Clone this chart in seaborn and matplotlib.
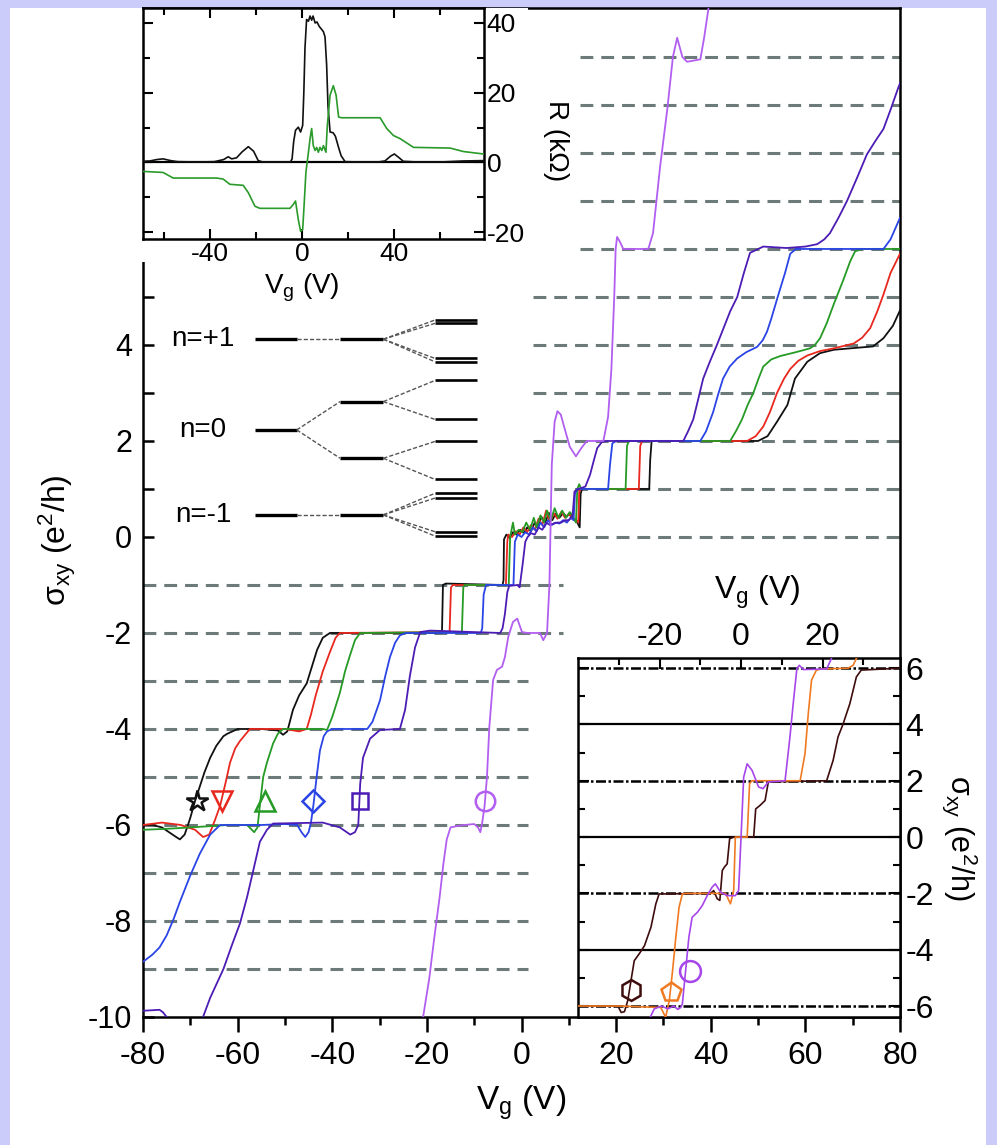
import matplotlib
matplotlib.use("Agg")
import matplotlib.pyplot as plt
import seaborn as sns
from matplotlib.patches import Rectangle

# ---------------------------------------------------------------- data
# main panel: sigma_xy (e^2/h) versus V_g (V)
BLACK = [(-80,-6.0),(-78,-6.0),(-76,-6.05),(-74.5,-6.15),(-73,-6.25),(-72.2,-6.3),(-71.2,-6.2),(-70.5,-6.0),
         (-70,-5.85),(-69,-5.5),(-68,-5.2),(-67,-4.9),(-65.8,-4.6),(-64.5,-4.35),(-63,-4.15),(-62.2,-4.1),
         (-60,-4.0),(-55,-4.0),(-51.5,-4.03),(-50.4,-4.12),(-49.5,-4.05),(-48.3,-3.6),(-47,-3.3),(-45.4,-3.05),
         (-44.3,-2.7),(-43.2,-2.35),(-42,-2.1),(-40.5,-2.0),(-17.0,-2.0),(-16.8,-1.95),(-16.6,-1.0),(-16.0,-0.97),
         (-4.0,-1.0),(-3.8,-0.9),(-3.7,-0.05),(-3.2,0.05),(-2.5,-0.02),(-1.8,0.1),(-1.0,0.05),(-0.3,0.15),
         (0.5,0.08),(1.2,0.2),(2.0,0.12),(2.8,0.3),(3.5,0.2),(4.2,0.42),(5.0,0.3),(5.8,0.5),(6.5,0.35),
         (7.2,0.48),(8.0,0.4),(8.8,0.5),(9.5,0.42),(10.3,0.5),(11.0,0.38),(11.8,0.3),(12.3,0.2),(12.5,0.9),
         (12.8,1.0),(20,1.0),(27.0,1.0),(27.2,1.6),(27.5,2.0),(35,2.0),(45,2.0),(50,2.0),(52,2.1),(54,2.4),
         (56.2,2.75),(57.8,3.3),(60.4,3.65),(63.1,3.83),(66,3.9),(69.5,3.93),(74.3,3.97),(76.5,4.14),
         (78.5,4.4),(80,4.72)]
RED = [(-80,-6.0),(-76,-5.95),(-72,-6.0),(-69,-6.1),(-67.3,-6.25),(-66,-6.2),(-64.8,-5.9),(-63.7,-5.6),
       (-62.5,-5.1),(-61.6,-4.7),(-60.5,-4.4),(-59.5,-4.25),(-57.4,-4.0),(-50,-4.0),(-47,-4.05),(-45.4,-4.0),
       (-44.5,-3.7),(-43.5,-3.3),(-42,-2.8),(-40.5,-2.4),(-39.3,-2.1),(-38.4,-2.0),(-15.2,-1.98),(-14.9,-1.05),
       (-14.5,-1.0),(-3.3,-1.0),(-3.0,-0.1),(-2.8,0.05),(-2.0,0.0),(-1.2,0.12),(-0.4,0.05),(0.4,0.2),
       (1.2,0.1),(2.0,0.25),(2.8,0.15),(3.6,0.38),(4.4,0.25),(5.2,0.55),(6.0,0.3),(6.8,0.5),(7.6,0.38),
       (8.4,0.52),(9.2,0.4),(10.0,0.48),(10.8,0.38),(11.6,0.35),(12.0,0.3),(12.2,0.95),(12.6,1.0),
       (24.8,1.0),(25.1,1.9),(25.5,2.0),(47.7,2.0),(49.5,2.1),(51.1,2.3),(52.5,2.6),(54,3.0),(55.5,3.3),
       (56.8,3.5),(58.5,3.67),(60.4,3.78),(63,3.87),(66,3.93),(70.2,4.03),(72,4.15),(73.7,4.35),
       (75.2,4.7),(76.5,5.05),(78,5.5),(80,5.9)]
GREEN = [(-80,-6.1),(-75,-6.08),(-70,-6.05),(-62,-6.0),(-58,-6.0),(-57,-6.1),(-56.5,-6.15),(-55.8,-6.05),
         (-55.3,-5.6),(-54.6,-5.0),(-53.8,-4.7),(-52.5,-4.3),(-51.5,-4.1),(-50.4,-4.0),(-42,-4.0),(-41.1,-4.02),
         (-40,-3.75),(-38.4,-3.25),(-37.3,-2.8),(-36.2,-2.45),(-35.2,-2.15),(-34.1,-2.0),(-12.6,-1.98),
         (-12.3,-1.05),(-12.0,-1.0),(-2.7,-1.0),(-2.4,0.0),(-1.8,0.3),(-1.4,0.05),(-0.6,0.15),(0.2,0.1),
         (1.0,0.3),(1.8,0.15),(2.6,0.4),(3.2,0.2),(4.0,0.45),(4.8,0.3),(5.4,0.55),(6.2,0.35),(7.0,0.6),
         (7.8,0.4),(8.6,0.55),(9.4,0.4),(10.2,0.52),(11.0,0.4),(11.5,0.3),(11.8,1.0),(12.2,1.1),(12.6,1.0),
         (22.0,1.0),(22.3,1.9),(22.7,2.0),(44.1,2.0),(45.3,2.2),(46.6,2.45),(47.8,2.75),(49,3.0),(50.1,3.3),
         (51.1,3.55),(52.8,3.7),(54.7,3.77),(58,3.85),(61,3.93),(62,4.0),(63.1,4.14),(64.5,4.45),(66,4.85),
         (68,5.35),(69.5,5.75),(70.5,5.95),(72,6.0),(80,6.0)]
BLUE = [(-80,-8.85),(-78,-8.7),(-76.5,-8.55),(-75,-8.3),(-73.5,-7.95),(-72.2,-7.6),(-71,-7.3),(-70,-7.05),
        (-68,-6.6),(-65.8,-6.2),(-63.7,-6.0),(-55,-6.0),(-50,-5.98),(-47.4,-6.0),(-46.5,-6.15),(-45.7,-6.25),
        (-45,-6.15),(-44.5,-5.95),(-44.0,-5.6),(-43.3,-5.0),(-42.6,-4.45),(-41.8,-4.15),(-41.1,-4.05),
        (-40,-4.0),(-32.6,-4.0),(-31.5,-3.85),(-30.6,-3.6),(-29.9,-3.4),(-28.8,-2.9),(-27.8,-2.5),
        (-26.7,-2.2),(-25.7,-2.05),(-24.5,-2.0),(-8.6,-2.0),(-8.3,-1.9),(-8.0,-1.2),(-7.5,-1.0),(-1.7,-1.0),
        (-1.4,-0.1),(-0.8,0.05),(0.0,0.0),(0.8,0.1),(1.6,0.05),(2.4,0.2),(3.2,0.12),(4.0,0.3),(4.8,0.2),
        (5.6,0.35),(6.4,0.25),(7.2,0.3),(8.0,0.28),(8.8,0.35),(9.6,0.3),(10.4,0.4),(11.0,0.35),(11.3,0.9),
        (11.8,1.0),(18.3,1.0),(18.7,1.5),(19.2,1.95),(20,2.0),(37.8,2.0),(39,2.2),(40.5,2.6),(41.5,2.95),
        (42.6,3.3),(44,3.55),(45.6,3.72),(47.5,3.85),(49.8,3.96),(51,4.1),(51.9,4.28),(52.8,4.55),
        (54.3,5.05),(55.7,5.5),(56.8,5.9),(58,6.0),(76.5,6.0),(78,6.2),(80,6.65)]
INDIGO = [(-80,-9.87),(-76.5,-9.85),(-75.8,-9.9),(-75,-10.0),(-74,-10.3),(-68,-10.3),(-67.5,-10.05),
          (-65.8,-9.6),(-63,-9.0),(-61.2,-8.5),(-59.5,-8.05),(-58,-7.5),(-56.7,-6.95),(-55.3,-6.35),
          (-53.8,-6.1),(-52.5,-5.97),(-42,-5.95),(-38.4,-6.05),(-36.2,-6.2),(-35.2,-6.15),(-34.5,-6.0),
          (-34.1,-5.15),(-33.5,-4.6),(-32,-4.2),(-29.9,-4.02),(-25.7,-4.0),(-24.6,-3.6),(-23.6,-2.9),
          (-22.5,-2.3),(-21.4,-1.98),(-19.3,-1.95),(-4.5,-2.0),(-4.0,-1.9),(-3.5,-1.6),(-3.0,-1.15),
          (-2.6,-1.02),(-0.8,-1.0),(-0.4,-1.05),(0.2,-0.6),(0.8,-0.1),(1.3,0.0),(2.0,0.08),(2.8,0.05),
          (3.6,0.2),(4.4,0.15),(5.2,0.3),(6.0,0.25),(6.8,0.28),(7.6,0.3),(8.4,0.3),(9.2,0.35),(10.0,0.35),
          (10.8,0.45),(11.2,0.95),(12.0,1.0),(13.5,1.05),(14.5,1.3),(15.3,1.6),(16.0,1.85),(17.0,1.98),
          (18.0,2.0),(34.2,2.0),(35.2,2.2),(36.3,2.45),(37.3,2.85),(38.4,3.3),(39.8,3.65),(41.3,4.0),
          (42.7,4.35),(44.1,4.7),(45.6,5.0),(47.0,5.5),(48.3,5.92),(51.1,6.05),(56,6.02),(60,6.05),
          (62.5,6.1),(64,6.2),(65.2,6.33),(67,6.65),(68.8,7.0),(71,7.5),(73,7.97),(74.8,8.25),(76.5,8.5),
          (78,8.9),(79.6,9.35),(80,9.45)]
VIOLET = [(-21.2,-10.4),(-20.8,-10.0),(-19.5,-9.2),(-18.5,-8.4),(-17.3,-7.5),(-16.5,-6.8),(-15.8,-6.3),
          (-15.0,-6.05),(-13.5,-6.02),(-12.0,-6.0),(-10.0,-5.98),(-9.2,-6.05),(-8.7,-6.15),(-8.3,-5.95),
          (-7.8,-5.6),(-7.3,-5.0),(-6.8,-3.96),(-6.0,-2.98),(-5.2,-2.77),(-4.1,-2.7),(-3.5,-2.5),(-2.8,-2.08),
          (-1.8,-1.77),(-0.9,-1.7),(0.1,-1.98),(1.2,-2.0),(3.9,-2.0),(4.6,-2.15),(5.4,-2.0),(5.9,-1.0),
          (6.4,1.5),(7.0,2.4),(7.6,2.62),(8.3,2.55),(9.0,2.3),(10.2,1.88),(11.5,1.68),(12.7,1.86),(13.8,2.0),
          (17.3,2.0),(18.3,2.5),(19.0,3.5),(19.6,5.0),(19.9,6.0),(20.2,6.25),(20.8,6.15),(21.5,6.0),
          (26.8,6.0),(27.8,6.33),(29.3,7.72),(30.8,8.9),(32.0,10.0),(32.9,10.4),(34.0,10.0),(35.0,9.9),
          (37.8,9.95),(38.6,10.4),(39.5,11.0),(39.8,11.3)]

MAIN_CURVES = [BLACK, RED, GREEN, BLUE, INDIGO, VIOLET]
MAIN_COLORS = ['#111111', '#e8281e', '#259a25', '#2a44e6', '#4c1cb4', '#b25ef0']
MAIN_MARKERS = ['*', 'v', '^', 'D', 's', 'o']
MARK_VG = [-68.6, -63.3, -54.2, -44.1, -34.1, -7.7]
MARK_S = [-5.5, -5.5, -5.5, -5.5, -5.5, -5.5]

# quantised reference levels (dashed)
LEVELS_LOW = [-9, -8, -7, -6, -5, -4, -3]
LEVELS_MID = [-2, -1]
LEVELS_UP = [0, 1, 2, 3, 4, 5]
LEVELS_TOP = [6, 7, 8, 9, 10]
LOW_END, MID_END, UP_START, TOP_START = 1.4, 8.8, 2.4, 12.4

# level-splitting schematic (energies on the sigma axis scale)
STAGE1 = [4.12, 2.23, 0.46]
STAGE1_LABELS = ['n=+1', 'n=0', 'n=-1']
STAGE2 = [4.12, 2.82, 1.64, 0.46]
STAGE2_PARENT = [0, 1, 1, 2]
STAGE3 = [4.52, 4.45, 3.72, 3.65, 3.26, 2.45, 1.99, 1.20, 0.91, 0.81, 0.11, 0.02]
STAGE3_PARENT = [0, 0, 0, 0, 1, 1, 2, 2, 3, 3, 3, 3]
COL1, COL2, COL3 = (-56.3, -47.5), (-38.35, -29.2), (-18.3, -9.45)
LABEL_VG = -67.3

# top-left inset: R (kOhm) versus V_g
RXX = [(-69,0.3),(-66,0.4),(-63,0.8),(-60.3,1.0),(-57,0.5),(-54,0.2),(-45,0.1),(-38,0.2),(-34,0.8),
       (-32,1.6),(-30.5,1.0),(-28.4,1.3),(-26,3.0),(-23.3,4.5),(-21,3.2),(-19,0.5),(-17,0.1),(-12,0.1),
       (-5,0.1),(-4.3,1.0),(-3.6,6.0),(-2.8,9.2),(-1.6,10.1),(-0.6,8.7),(0.3,10.6),(0.8,20),(1.3,32.8),
       (2.0,41.0),(2.8,40.5),(3.5,42.0),(4.2,40.8),(4.8,42.0),(5.7,40.0),(6.5,40.3),(7.5,39.0),(8.5,38.2),
       (9.3,37.5),(10.0,36.0),(10.7,28),(11.3,16),(12.2,8.7),(13.5,8.5),(14.5,7.5),(16.0,4.0),(17.0,1.9),
       (18.7,0.2),(25,0.1),(33,0.1),(36,0.4),(38.5,1.8),(40.1,2.4),(42,1.4),(44,0.3),(50,0.1),(60,0.1),
       (70,0.4),(79,0.5)]
RXY = [(-69,-2.6),(-60.3,-2.9),(-55.9,-4.5),(-37.1,-4.5),(-34.2,-4.8),(-31.3,-6.3),(-25.5,-6.6),
       (-23.3,-8.7),(-20.4,-12.6),(-18.3,-13.2),(-5.2,-13.2),(-3.8,-12.1),(-2.8,-11.1),(-1.6,-16.4),
       (-0.6,-19.8),(0.3,-19.3),(0.9,-12.6),(1.7,-2.9),(2.8,2.9),(3.5,6.8),(4.2,9.7),(4.9,4.8),(5.7,3.4),
       (6.4,4.3),(7.1,2.9),(7.8,4.3),(8.6,3.4),(9.3,4.8),(10.4,2.9),(11.0,10.6),(12.2,19.3),(13.6,22.0),
       (14.8,19.3),(15.9,13.0),(17.2,12.8),(33.9,12.8),(36.8,9.7),(39.7,7.7),(42.6,6.8),(48.4,4.3),
       (64.3,4.1),(70.1,3.1),(78.8,2.4)]

# bottom-right inset: sigma_xy versus V_g
PURPLE_IN = [(-22.6,-6.5),(-21.3,-6.1),(-19.5,-6.0),(-18,-6.1),(-16.5,-6.0),(-15.5,-6.12),(-14.8,-6.05),
             (-14.4,-5.93),(-13.6,-4.75),(-12.8,-3.56),(-12.0,-2.85),(-10.7,-2.67),(-9.5,-2.43),(-8.3,-2.08),
             (-7.1,-1.78),(-6.3,-1.66),(-5.0,-1.96),(-3.4,-2.08),(-1.4,-2.08),(-0.6,-1.9),(0.0,0.0),
             (0.65,2.13),(1.5,2.6),(2.7,2.37),(4.3,1.78),(5.4,1.72),(6.7,1.96),(10.8,2.0),(12.0,3.56),
             (12.8,4.74),(13.7,5.99),(14.3,6.1),(15.3,5.95),(21.0,5.97),(22.2,6.35),(22.6,6.6)]
ORANGE_IN = [(-40,-6.0),(-30,-6.0),(-19.7,-6.05),(-18.5,-6.4),(-17.6,-5.8),(-16.8,-4.75),(-16.0,-3.56),
             (-15.2,-2.49),(-14.4,-2.02),(-13.6,-2.0),(-3.8,-2.0),(-2.6,-2.37),(-1.8,-1.9),(-1.4,0.0),
             (1.5,0.0),(2.1,1.9),(2.7,2.0),(14.5,2.0),(15.7,2.97),(16.5,4.39),(17.3,5.58),(18.5,5.93),
             (19.8,5.97),(26.3,6.0),(27.5,6.1),(28.7,6.47)]
BROWN_IN = [(-40,-6.0),(-30.2,-6.0),(-29.4,-6.23),(-28.6,-6.2),(-27.8,-5.81),(-27.0,-5.1),(-26.2,-4.39),
            (-25.0,-4.15),(-23.7,-3.86),(-22.1,-3.2),(-20.9,-2.37),(-20.1,-2.02),(-7.5,-2.0),(-6.7,-1.9),
            (-5.85,-2.19),(-5.2,-2.25),(-4.6,-1.19),(-4.1,-1.07),(-3.4,-0.95),(-2.8,-0.06),(-1.8,0.0),
            (3.1,0.0),(3.6,1.0),(4.7,1.13),(5.9,1.3),(6.7,1.96),(21.0,2.0),(22.6,2.73),(23.8,3.56),
            (25.0,4.0),(26.7,4.74),(28.3,5.69),(29.5,5.93),(39,6.0)]
IN_CURVES = [BROWN_IN, ORANGE_IN, PURPLE_IN]
IN_COLORS = ['#3e0c0c', '#f07a22', '#a646ea']
IN_MARKERS = ['h', 'p', 'o']
IN_MARK_VG = [-27.0, -17.2, -12.4]
IN_MARK_S = [-5.43, -5.5, -4.75]
IN_SOLID = [4, 0, -4]
IN_DASHDOT = [6, 2, -2, -6]

# ---------------------------------------------------------------- style
sns.set_theme(style='white')
plt.rcParams['font.family'] = ['Liberation Sans', 'DejaVu Sans']
plt.rcParams['mathtext.fontset'] = 'custom'
plt.rcParams['mathtext.rm'] = 'Liberation Sans'
plt.rcParams['mathtext.it'] = 'Liberation Sans'
plt.rcParams['axes.unicode_minus'] = False
plt.rcParams['axes.edgecolor'] = 'black'
plt.rcParams['xtick.color'] = 'black'
plt.rcParams['ytick.color'] = 'black'
plt.rcParams['text.color'] = 'black'

W, H = 997.0, 1145.0
def fx(px):
    return px / W
def fy(py):
    return 1.0 - py / H

fig = plt.figure(figsize=(9.97, 11.45), dpi=100)
fig.patch.set_facecolor('#ccccfa')
fig.add_artist(Rectangle((fx(10), 0), fx(986) - fx(10), fy(8), transform=fig.transFigure,
                         facecolor='white', edgecolor='none', zorder=-10))

SPINE_W = 1.8
DASH_GRAY = '#6c7a7a'

# ---------------------------------------------------------------- main axes
ax = fig.add_axes([fx(143), fy(1017), fx(900) - fx(143), fy(8) - fy(1017)])
ax.set_zorder(1)
ax.set_facecolor('white')

def draw_levels(levels, x0, x1):
    for lv in levels:
        ax.plot([x0, x1], [lv, lv], color=DASH_GRAY, lw=2.2, ls=(0, (4.2, 2.6)), zorder=1,
                solid_capstyle='butt', dash_capstyle='butt')

draw_levels(LEVELS_LOW, -80, LOW_END)
draw_levels(LEVELS_MID, -80, MID_END)
draw_levels(LEVELS_UP, UP_START, 80)
draw_levels(LEVELS_TOP, TOP_START, 80)

for pts, col in zip(MAIN_CURVES, MAIN_COLORS):
    xs = [p[0] for p in pts]
    ys = [p[1] for p in pts]
    sns.lineplot(x=xs, y=ys, ax=ax, color=col, lw=1.3, sort=False, estimator=None, legend=False, zorder=3)

for vx, vy, mk, col in zip(MARK_VG, MARK_S, MAIN_MARKERS, MAIN_COLORS):
    ms = {'*': 16, 'v': 14, '^': 14, 'D': 11, 's': 12, 'o': 14}[mk]
    ax.plot([vx], [vy], marker=mk, ms=ms, mfc='none', mec=col, mew=1.8, ls='none', zorder=4)

# level schematic
for lv in STAGE1:
    ax.plot(list(COL1), [lv, lv], color='black', lw=2.4, solid_capstyle='butt', zorder=3)
for lv, par in zip(STAGE2, STAGE2_PARENT):
    ax.plot(list(COL2), [lv, lv], color='black', lw=2.4, solid_capstyle='butt', zorder=3)
    ax.plot([COL1[1], COL2[0]], [STAGE1[par], lv], color='#555555', lw=1.0, ls=(0, (3, 1.5)), zorder=3)
for lv, par in zip(STAGE3, STAGE3_PARENT):
    ax.plot(list(COL3), [lv, lv], color='black', lw=1.9, solid_capstyle='butt', zorder=3)
    ax.plot([COL2[1], COL3[0]], [STAGE2[par], lv], color='#555555', lw=1.0, ls=(0, (3, 1.5)), zorder=3)
for lv, lab in zip(STAGE1, STAGE1_LABELS):
    ax.text(LABEL_VG, lv, lab, fontsize=20, ha='center', va='center', zorder=4)

ax.set_xlim(-80, 80)
ax.set_ylim(-10, 11.02)
ax.set_xlabel('')
ax.set_ylabel('')
ax.set_xticks(range(-80, 81, 20))
ax.set_xticks(range(-70, 80, 20), minor=True)
ax.set_yticks(range(-10, 5, 2))
ax.set_yticks(range(-9, 6, 2), minor=True)
ax.tick_params(axis='x', which='both', direction='out', bottom=True, top=False, width=SPINE_W,
               labelsize=23, pad=6)
ax.tick_params(axis='x', which='major', length=11)
ax.tick_params(axis='x', which='minor', length=6)
ax.tick_params(axis='y', which='both', direction='in', left=True, right=False, width=SPINE_W,
               labelsize=22, length=8, pad=8)
for sp in ax.spines.values():
    sp.set_linewidth(SPINE_W)
    sp.set_color('black')

fig.text(fx(521), fy(1103), r'V$_\mathregular{g}$ (V)', fontsize=24, ha='center', va='center')
fig.text(fx(57), fy(540), r'σ$_\mathregular{xy}$ (e$^\mathregular{2}$/h)', fontsize=23, rotation=90,
         ha='center', va='center')

# cover for the pasted top inset
fig.add_artist(Rectangle((fx(141), fy(262)), fx(528) - fx(141), fy(8) - fy(262), transform=fig.transFigure,
                         facecolor='white', edgecolor='none', zorder=2))

# ---------------------------------------------------------------- top-left inset
axi = fig.add_axes([fx(143), fy(239), fx(484) - fx(143), fy(8) - fy(239)])
axi.set_zorder(3)
axi.set_facecolor('white')
axi.axhline(0, color='black', lw=1.6, zorder=2)
for pts, col in [(RXX, '#111111'), (RXY, '#2a9a2a')]:
    sns.lineplot(x=[p[0] for p in pts], y=[p[1] for p in pts], ax=axi, color=col, lw=1.2,
                 sort=False, estimator=None, legend=False, zorder=3)
axi.set_xlim(-69, 79)
axi.set_ylim(-22, 44.3)
axi.set_xlabel('')
axi.set_ylabel('')
axi.set_xticks([-40, 0, 40])
axi.set_xticks([-60, -20, 20, 60], minor=True)
axi.set_yticks([-20, 0, 20, 40])
axi.set_yticks([-10, 10, 30], minor=True)
axi.tick_params(axis='x', which='both', direction='in', top=True, bottom=True, labelbottom=True,
                labeltop=False, width=1.5, labelsize=19, pad=2)
axi.tick_params(axis='x', which='major', length=7)
axi.tick_params(axis='x', which='minor', length=5)
axi.tick_params(axis='y', which='both', direction='in', left=True, right=True, labelleft=False,
                labelright=True, width=1.5, labelsize=19, pad=2)
axi.tick_params(axis='y', which='major', length=7)
axi.tick_params(axis='y', which='minor', length=5)
for sp in axi.spines.values():
    sp.set_linewidth(SPINE_W)
    sp.set_color('black')
fig.text(fx(302), fy(288), r'V$_\mathregular{g}$ (V)', fontsize=20, ha='center', va='center', zorder=4)
fig.text(fx(556), fy(141), 'R (kΩ)', fontsize=20, rotation=270, ha='center', va='center', zorder=4)

# ---------------------------------------------------------------- bottom-right inset
axb = fig.add_axes([fx(578), fy(1017), fx(900) - fx(578), fy(658) - fy(1017)])
axb.set_zorder(3)
axb.set_facecolor('white')
for lv in IN_SOLID:
    axb.axhline(lv, color='black', lw=1.6, zorder=1)
for lv in IN_DASHDOT:
    axb.axhline(lv, color='black', lw=1.8, ls=(0, (4, 1.0, 1, 1.0)), zorder=1)
for pts, col in zip(IN_CURVES, IN_COLORS):
    sns.lineplot(x=[p[0] for p in pts], y=[p[1] for p in pts], ax=axb, color=col, lw=1.2,
                 sort=False, estimator=None, legend=False, zorder=3)
for vx, vy, mk, col in zip(IN_MARK_VG, IN_MARK_S, IN_MARKERS, IN_COLORS):
    axb.plot([vx], [vy], marker=mk, ms=15, mfc='none', mec=col, mew=1.8, ls='none', zorder=4)
axb.set_xlim(-40, 39)
axb.set_ylim(-6.39, 6.36)
axb.set_xlabel('')
axb.set_ylabel('')
axb.set_xticks([-20, 0, 20])
axb.set_xticks([-30, -10, 10, 30], minor=True)
axb.set_yticks([-6, -4, -2, 0, 2, 4, 6])
axb.set_yticks([-5, -3, -1, 1, 3, 5], minor=True)
axb.tick_params(axis='x', which='both', direction='in', top=True, bottom=False, labeltop=True,
                labelbottom=False, width=1.5, labelsize=23, pad=4)
axb.tick_params(axis='x', which='major', length=8)
axb.tick_params(axis='x', which='minor', length=5)
axb.tick_params(axis='y', which='both', direction='in', left=True, right=True, labelleft=False,
                labelright=True, width=1.5, labelsize=23, pad=4)
axb.tick_params(axis='y', which='major', length=8)
axb.tick_params(axis='y', which='minor', length=5)
for sp in axb.spines.values():
    sp.set_linewidth(SPINE_W)
    sp.set_color('black')
fig.text(fx(757), fy(592), r'V$_\mathregular{g}$ (V)', fontsize=23, ha='center', va='center', zorder=4)
fig.text(fx(960), fy(838), r'σ$_\mathregular{xy}$ (e$^\mathregular{2}$/h)', fontsize=22, rotation=270,
         ha='center', va='center', zorder=4)

fig.savefig('out.png', dpi=100, facecolor=fig.get_facecolor())
